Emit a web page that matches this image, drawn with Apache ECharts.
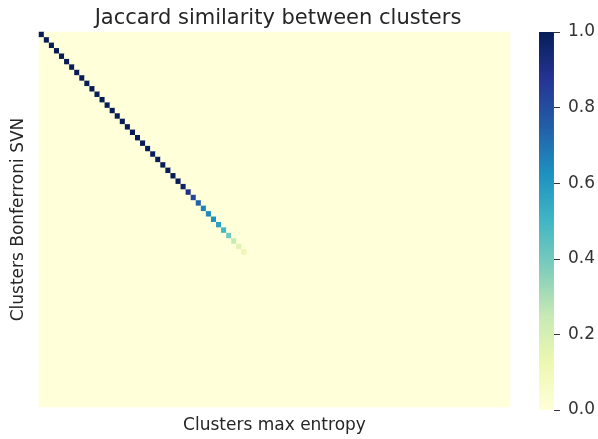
<!DOCTYPE html>
<html><head><meta charset="utf-8">
<script src="https://cdn.jsdelivr.net/npm/echarts@6/dist/echarts.min.js"></script>
<style>html,body{margin:0;padding:0;background:#fff;}#c{width:598px;height:439px;}</style>
</head><body><div id="c"></div>
<script>
const titleText = 'Jaccard similarity between clusters';
const xName = 'Clusters max entropy';
const yName = 'Clusters Bonferroni SVN';
const nCols = 93;   // clusters (max entropy)
const nRows = 69;   // clusters (Bonferroni SVN)
// Jaccard similarity on the diagonal (row i, col i); all other cells are 0
const diagonalValues = [
  1,1,1,1,1,1,1,1,1,1,
  1,1,1,1,1,1,1,1,1,1,
  1,1,1,1,1,1,1,1,
  0.97,0.9,0.82,0.74,0.66,0.64,0.62,0.57,0.5,0.4,0.25,0.16,0.12
];
const colorbarTicks = [0, 0.2, 0.4, 0.6, 0.8, 1.0];
const ylgnbu = ['#ffffd9','#edf8b1','#c7e9b4','#7fcdbb','#41b6c4','#1d91c0','#225ea8','#253494','#081d58'];

const xCats = Array.from({length: nCols}, (_, i) => String(i));
const yCats = Array.from({length: nRows}, (_, i) => String(i));
const cells = [];
for (let r = 0; r < nRows; r++) {
  for (let c = 0; c < nCols; c++) {
    const v = (r === c && r < diagonalValues.length) ? diagonalValues[r] : 0;
    cells.push([c, r, v]);
  }
}

const font = 'DejaVu Sans';
const chart = echarts.init(document.getElementById('c'), null, {renderer: 'canvas'});
chart.setOption({
  animation: false,
  backgroundColor: '#ffffff',
  title: {
    text: titleText, left: 273, textAlign: 'center', top: 3,
    textStyle: {fontFamily: font, fontSize: 21, fontWeight: 'normal', color: '#262626'}
  },
  grid: [
    {left: 39, top: 32, width: 471, height: 380},
    {left: 539, top: 32, width: 18, height: 378}
  ],
  xAxis: [
    {type: 'category', gridIndex: 0, data: xCats, axisLine: {show: false}, axisTick: {show: false},
     axisLabel: {show: false}, splitLine: {show: false},
     name: xName, nameLocation: 'middle', nameGap: 10,
     nameTextStyle: {fontFamily: font, fontSize: 17, color: '#262626', verticalAlign: 'top'}},
    {type: 'category', gridIndex: 1, data: ['cb'], show: false}
  ],
  yAxis: [
    {type: 'category', gridIndex: 0, data: yCats, inverse: true, axisLine: {show: false},
     axisTick: {show: false}, axisLabel: {show: false}, splitLine: {show: false},
     name: yName, nameLocation: 'middle', nameGap: 12,
     nameTextStyle: {fontFamily: font, fontSize: 17, color: '#262626'}},
    {type: 'value', gridIndex: 1, min: 0, max: 1, interval: 0.2, position: 'right',
     axisLine: {show: false}, splitLine: {show: false},
     axisTick: {show: true, inside: false, length: 6, lineStyle: {color: '#333', width: 1}},
     axisLabel: {show: true, margin: 14, fontFamily: font, fontSize: 17, color: '#333',
                 formatter: v => colorbarTicks.some(t => Math.abs(t - v) < 1e-9) ? v.toFixed(1) : ''}}
  ],
  visualMap: {
    show: false, type: 'continuous', min: 0, max: 1, seriesIndex: 0, dimension: 2,
    inRange: {color: ylgnbu}
  },
  series: [
    {type: 'heatmap', xAxisIndex: 0, yAxisIndex: 0, data: cells, progressive: 0,
     itemStyle: {borderWidth: 0}, emphasis: {disabled: true}},
    {type: 'bar', xAxisIndex: 1, yAxisIndex: 1, data: [1], barWidth: '100%', silent: true,
     itemStyle: {color: {type: 'linear', x: 0, y: 0, x2: 0, y2: 1,
       colorStops: ylgnbu.slice().reverse().map((c, i, a) => ({offset: i / (a.length - 1), color: c}))}}}
  ]
});
</script></body></html>
